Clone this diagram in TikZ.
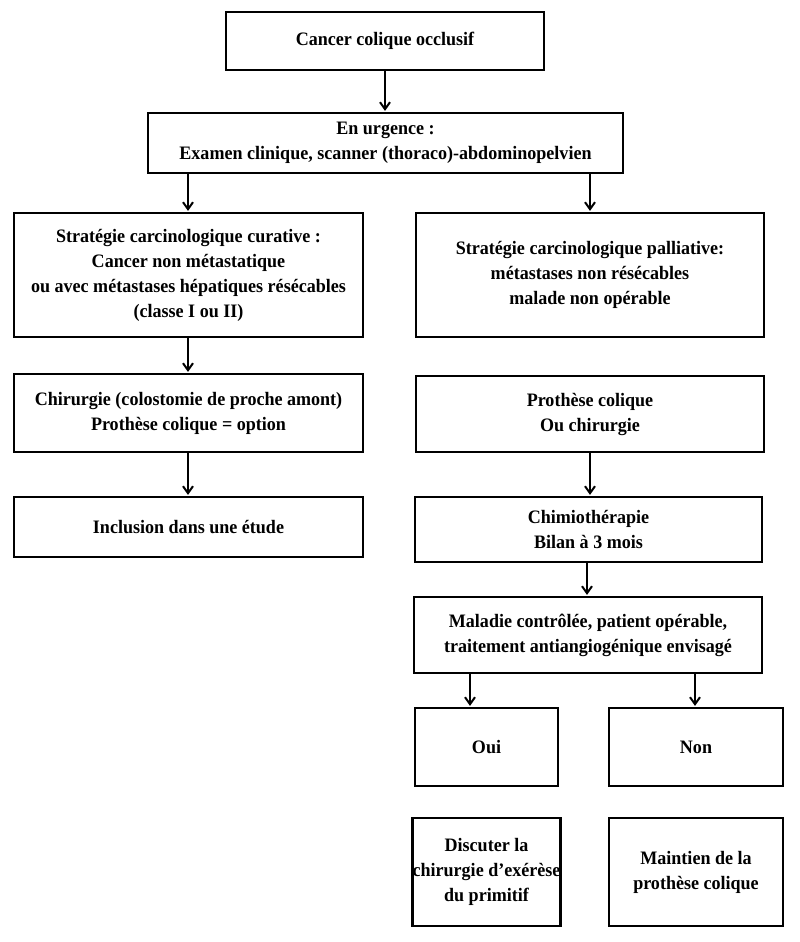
\documentclass[tikz,border=0pt]{standalone}
\usepackage{fontspec}
\setmainfont{Liberation Serif}[FakeStretch=0.95]
\usetikzlibrary{arrows.meta}
\begin{document}
\begin{tikzpicture}[x=1pt,y=-1pt,
 box/.style={draw,line width=2.2pt,align=center,font=\fontsize{19}{25}\selectfont\bfseries,inner sep=0pt},
 arr/.style={-{Straight Barb[length=7pt,width=10pt,line width=2pt]},line width=2pt,shorten >=1pt}]
\useasboundingbox[fill=white] (0,0) rectangle (800,942);
\newcommand{\bx}[6]{\node[box,minimum width=#4-#2,minimum height=#5-#3] (#1) at ({(#2+#4)/2},{(#3+#5)/2}) {#6};}
\bx{a}{226}{12}{544}{70}{Cancer colique occlusif}
\bx{b}{148}{113}{623}{173}{En urgence :\\Examen clinique, scanner (thoraco)-abdominopelvien}
\bx{c}{14}{213}{363}{337}{Stratégie carcinologique curative :\\Cancer non métastatique\\ou avec métastases hépatiques résécables\\(classe I ou II)}
\bx{d}{416}{213}{764}{337}{Stratégie carcinologique palliative:\\métastases non résécables\\malade non opérable}
\bx{e}{14}{374}{363}{452}{Chirurgie (colostomie de proche amont)\\Prothèse colique = option}
\bx{f}{416}{376}{764}{452}{Prothèse colique\\Ou chirurgie}
\bx{g}{14}{497}{363}{557}{Inclusion dans une étude}
\bx{h}{415}{497}{762}{562}{Chimiothérapie\\Bilan à 3 mois}
\bx{i}{414}{597}{762}{673}{Maladie contrôlée, patient opérable,\\traitement antiangiogénique envisagé}
\bx{j}{415}{708}{558}{786}{Oui}
\bx{k}{609}{708}{783}{786}{Non}
\bx{l}{415}{818}{558}{926}{Discuter la\\chirurgie d’exérèse\\du primitif}
\bx{m}{609}{818}{783}{926}{Maintien de la\\prothèse colique}
\coordinate (x1) at (385,0);
\coordinate (x2) at (188,0);
\coordinate (x3) at (590,0);
\coordinate (x4) at (587,0);
\coordinate (x5) at (470,0);
\coordinate (x6) at (695,0);
\draw[arr] (a.south -| x1) -- (b.north -| x1);
\draw[arr] (b.south -| x2) -- (c.north -| x2);
\draw[arr] (b.south -| x3) -- (d.north -| x3);
\draw[arr] (c.south -| x2) -- (e.north -| x2);
\draw[arr] (e.south -| x2) -- (g.north -| x2);
\draw[arr] (f.south -| x3) -- (h.north -| x3);
\draw[arr] (h.south -| x4) -- (i.north -| x4);
\draw[arr] (i.south -| x5) -- (j.north -| x5);
\draw[arr] (i.south -| x6) -- (k.north -| x6);
\end{tikzpicture}
\end{document}
